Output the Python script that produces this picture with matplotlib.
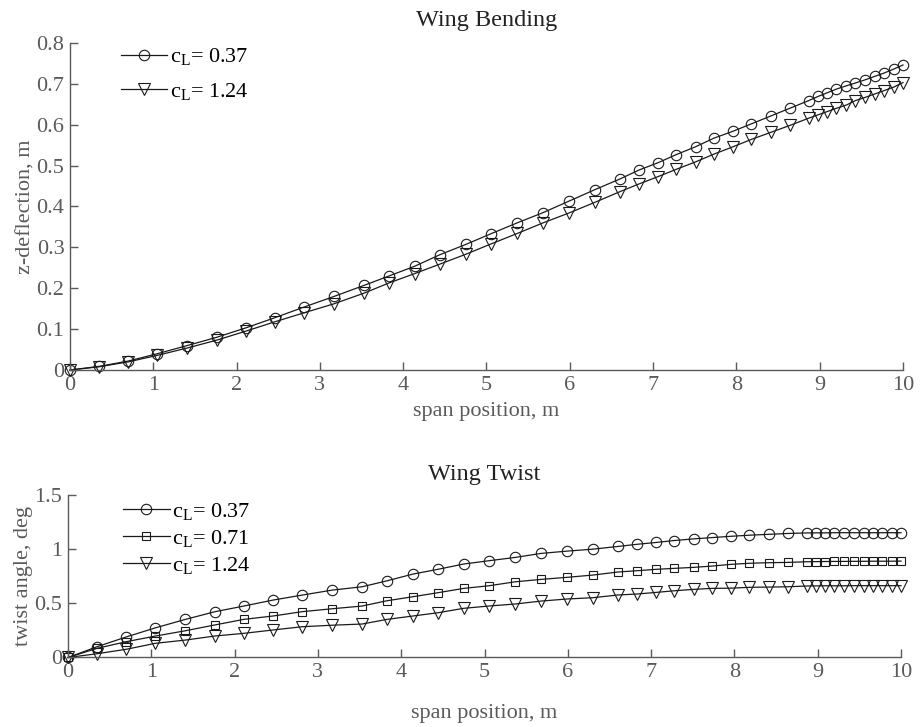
import matplotlib
matplotlib.use("Agg")
import matplotlib.pyplot as plt

plt.rcParams["font.family"] = ["Liberation Serif", "DejaVu Serif"]
plt.rcParams["mathtext.fontset"] = "custom"
plt.rcParams["mathtext.rm"] = "Liberation Serif"
plt.rcParams["mathtext.it"] = "Liberation Serif"

# span stations (m)
span = [0.00, 0.35, 0.70, 1.05, 1.41, 1.76, 2.11, 2.46, 2.81, 3.17,
        3.53, 3.83, 4.14, 4.44, 4.75, 5.05, 5.37, 5.68, 5.99, 6.30,
        6.60, 6.83, 7.06, 7.28, 7.51, 7.73, 7.96, 8.18, 8.41, 8.64,
        8.87, 8.98, 9.09, 9.20, 9.32, 9.43, 9.55, 9.66, 9.77, 9.89, 10.00]

# z-deflection, m
bend_037 = [0.000, 0.009, 0.022, 0.040, 0.060, 0.080, 0.103, 0.128, 0.154, 0.180,
            0.207, 0.230, 0.254, 0.282, 0.307, 0.333, 0.360, 0.385, 0.413, 0.441,
            0.467, 0.489, 0.507, 0.527, 0.546, 0.567, 0.584, 0.602, 0.621, 0.640,
            0.659, 0.669, 0.678, 0.687, 0.695, 0.702, 0.710, 0.718, 0.726, 0.736, 0.746]
bend_124 = [0.000, 0.008, 0.020, 0.036, 0.054, 0.073, 0.095, 0.118, 0.140, 0.162,
            0.188, 0.213, 0.236, 0.259, 0.283, 0.308, 0.334, 0.360, 0.384, 0.410,
            0.436, 0.455, 0.473, 0.491, 0.509, 0.528, 0.546, 0.564, 0.581, 0.598,
            0.616, 0.624, 0.632, 0.640, 0.648, 0.659, 0.667, 0.675, 0.683, 0.692, 0.703]

# twist angle, deg
twist_037 = [0.000, 0.100, 0.190, 0.274, 0.352, 0.422, 0.475, 0.530, 0.576, 0.622,
             0.653, 0.708, 0.770, 0.814, 0.863, 0.893, 0.924, 0.961, 0.982, 1.000,
             1.025, 1.045, 1.062, 1.080, 1.095, 1.107, 1.119, 1.129, 1.137, 1.145,
             1.150, 1.151, 1.151, 1.152, 1.152, 1.152, 1.152, 1.152, 1.152, 1.152, 1.152]
twist_071 = [0.000, 0.085, 0.146, 0.198, 0.247, 0.300, 0.352, 0.383, 0.423, 0.450,
             0.475, 0.524, 0.561, 0.598, 0.638, 0.662, 0.699, 0.721, 0.740, 0.761,
             0.789, 0.801, 0.814, 0.823, 0.832, 0.844, 0.860, 0.870, 0.875, 0.878,
             0.884, 0.885, 0.886, 0.887, 0.887, 0.888, 0.888, 0.889, 0.889, 0.889, 0.890]
twist_124 = [0.000, 0.035, 0.076, 0.131, 0.161, 0.198, 0.223, 0.254, 0.284, 0.298,
             0.309, 0.352, 0.383, 0.413, 0.454, 0.475, 0.494, 0.521, 0.540, 0.552,
             0.577, 0.586, 0.601, 0.616, 0.629, 0.638, 0.640, 0.648, 0.650, 0.653,
             0.660, 0.661, 0.662, 0.662, 0.662, 0.663, 0.663, 0.663, 0.663, 0.663, 0.663]

labels_bend = [r"c$_{\rm L}$= 0.37", r"c$_{\rm L}$= 1.24"]
labels_twist = [r"c$_{\rm L}$= 0.37", r"c$_{\rm L}$= 0.71", r"c$_{\rm L}$= 1.24"]

GREY = "#5a5a5a"
LINE = "#1a1a1a"


def style_axes(ax):
    for side in ("top", "right"):
        ax.spines[side].set_visible(False)
    for side in ("left", "bottom"):
        ax.spines[side].set_color(GREY)
        ax.spines[side].set_linewidth(1.0)
    ax.tick_params(direction="in", length=6, width=1.0, colors=GREY,
                   labelsize=16, labelcolor=GREY, pad=4)
    ax.set_xlim(0, 10)
    ax.set_xticks(range(11))


def series(ax, y, marker, ms, label):
    ax.plot(span, y, color=LINE, lw=0.9, marker=marker, ms=ms,
            mfc="none", mec=LINE, mew=0.8, label=label, clip_on=False)


fig = plt.figure(figsize=(9.23, 7.27), dpi=100)

ax1 = fig.add_axes([0.0758, 0.491, 0.9025, 0.450])
series(ax1, bend_037, "o", 7.5, labels_bend[0])
series(ax1, bend_124, "v", 8.0, labels_bend[1])
style_axes(ax1)
ax1.set_ylim(0, 0.8)
ax1.set_yticks([0, 0.1, 0.2, 0.3, 0.4, 0.5, 0.6, 0.7, 0.8])
ax1.set_yticklabels(["0", "0.1", "0.2", "0.3", "0.4", "0.5", "0.6", "0.7", "0.8"])
ax1.set_title("Wing Bending", fontsize=17.5, color="#222222", pad=12)
ax1.set_xlabel("span position, m", fontsize=16, color=GREY, labelpad=5)
ax1.set_ylabel("z-deflection, m", fontsize=16, color=GREY, labelpad=1)
ax1.legend(loc="upper left", bbox_to_anchor=(0.045, 1.03), frameon=False,
           fontsize=16, handlelength=2.1, handletextpad=0.1, labelspacing=0.62,
           borderaxespad=0.2)

ax2 = fig.add_axes([0.0737, 0.0956, 0.9025, 0.2235])
series(ax2, twist_037, "o", 7.5, labels_twist[0])
series(ax2, twist_071, "s", 6.0, labels_twist[1])
series(ax2, twist_124, "v", 8.0, labels_twist[2])
style_axes(ax2)
ax2.set_ylim(0, 1.5)
ax2.set_yticks([0, 0.5, 1, 1.5])
ax2.set_yticklabels(["0", "0.5", "1", "1.5"])
ax2.set_title("Wing Twist", fontsize=17.5, color="#222222", pad=11)
ax2.set_xlabel("span position, m", fontsize=16, color=GREY, labelpad=16)
ax2.set_ylabel("twist angle, deg", fontsize=16, color=GREY, labelpad=1)
ax2.legend(loc="upper left", bbox_to_anchor=(0.05, 1.045), frameon=False,
           fontsize=16, handlelength=2.1, handletextpad=0.1, labelspacing=0.27,
           borderaxespad=0.2)

fig.savefig("out.png", dpi=100)
